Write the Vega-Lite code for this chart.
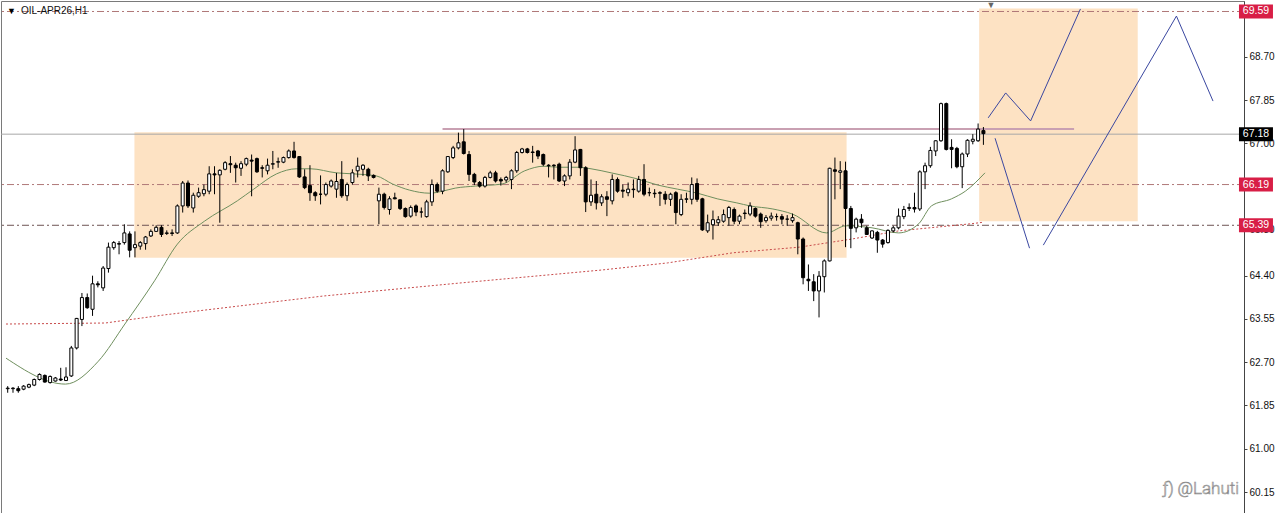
{
  "$schema": "https://vega.github.io/schema/vega-lite/v6.json",
  "width": 1243,
  "height": 513,
  "padding": 0,
  "background": "white",
  "config": {
    "view": {"stroke": "#7a7a7a", "strokeWidth": 1},
    "axisY": {"grid": false, "domainColor": "#444", "tickColor": "#444", "tickSize": 3, "labelPadding": 2, "labelFont": "Liberation Sans", "labelFontSize": 10, "labelColor": "#111"}
  },
  "datasets": {
    "candles": [
      {"n":1,"o":62.18,"h":62.23,"l":62.10,"c":62.19},
      {"n":2,"o":62.18,"h":62.21,"l":62.10,"c":62.19},
      {"n":3,"o":62.18,"h":62.23,"l":62.10,"c":62.14},
      {"n":4,"o":62.17,"h":62.25,"l":62.15,"c":62.23},
      {"n":5,"o":62.21,"h":62.28,"l":62.19,"c":62.26},
      {"n":6,"o":62.25,"h":62.38,"l":62.23,"c":62.36},
      {"n":7,"o":62.36,"h":62.48,"l":62.34,"c":62.46},
      {"n":8,"o":62.44,"h":62.46,"l":62.30,"c":62.31},
      {"n":9,"o":62.30,"h":62.44,"l":62.28,"c":62.42},
      {"n":10,"o":62.33,"h":62.41,"l":62.32,"c":62.39},
      {"n":11,"o":62.37,"h":62.59,"l":62.33,"c":62.35},
      {"n":12,"o":62.34,"h":62.60,"l":62.33,"c":62.41},
      {"n":13,"o":62.43,"h":63.02,"l":62.41,"c":62.98},
      {"n":14,"o":62.98,"h":63.57,"l":62.95,"c":63.56},
      {"n":15,"o":63.54,"h":64.06,"l":63.41,"c":63.97},
      {"n":16,"o":63.97,"h":64.05,"l":63.75,"c":63.77},
      {"n":17,"o":63.74,"h":64.40,"l":63.61,"c":64.24},
      {"n":18,"o":64.24,"h":64.29,"l":64.17,"c":64.22},
      {"n":19,"o":64.16,"h":64.59,"l":64.10,"c":64.55},
      {"n":20,"o":64.54,"h":65.05,"l":64.46,"c":64.96},
      {"n":21,"o":64.95,"h":65.08,"l":64.91,"c":65.05},
      {"n":22,"o":65.03,"h":65.08,"l":64.82,"c":65.02},
      {"n":23,"o":65.05,"h":65.41,"l":65.01,"c":65.24},
      {"n":24,"o":65.22,"h":65.27,"l":64.76,"c":64.90},
      {"n":25,"o":64.95,"h":65.27,"l":64.76,"c":65.01},
      {"n":26,"o":64.98,"h":65.08,"l":64.91,"c":65.05},
      {"n":27,"o":65.03,"h":65.18,"l":64.91,"c":65.16},
      {"n":28,"o":65.18,"h":65.31,"l":65.16,"c":65.27},
      {"n":29,"o":65.27,"h":65.39,"l":65.26,"c":65.35},
      {"n":30,"o":65.35,"h":65.39,"l":65.16,"c":65.21},
      {"n":31,"o":65.23,"h":65.29,"l":65.20,"c":65.24},
      {"n":32,"o":65.24,"h":65.31,"l":65.18,"c":65.23},
      {"n":33,"o":65.24,"h":65.80,"l":65.22,"c":65.77},
      {"n":34,"o":65.77,"h":66.26,"l":65.64,"c":66.22},
      {"n":35,"o":66.22,"h":66.27,"l":65.73,"c":65.77},
      {"n":36,"o":65.73,"h":66.03,"l":65.64,"c":65.98},
      {"n":37,"o":65.96,"h":66.13,"l":65.93,"c":66.03},
      {"n":38,"o":66.01,"h":66.19,"l":65.96,"c":66.09},
      {"n":39,"o":66.06,"h":66.55,"l":66.00,"c":66.40},
      {"n":40,"o":66.40,"h":66.55,"l":66.00,"c":66.38},
      {"n":41,"o":66.38,"h":66.49,"l":65.44,"c":66.47},
      {"n":42,"o":66.49,"h":66.65,"l":66.47,"c":66.62},
      {"n":43,"o":66.60,"h":66.75,"l":66.42,"c":66.58},
      {"n":44,"o":66.57,"h":66.62,"l":66.23,"c":66.52},
      {"n":45,"o":66.51,"h":66.65,"l":66.36,"c":66.60},
      {"n":46,"o":66.59,"h":66.72,"l":66.55,"c":66.70},
      {"n":47,"o":66.67,"h":66.78,"l":65.96,"c":66.65},
      {"n":48,"o":66.70,"h":66.72,"l":66.42,"c":66.44},
      {"n":49,"o":66.52,"h":66.57,"l":66.33,"c":66.51},
      {"n":50,"o":66.46,"h":66.70,"l":66.39,"c":66.57},
      {"n":51,"o":66.59,"h":66.85,"l":66.49,"c":66.60},
      {"n":52,"o":66.63,"h":66.72,"l":66.52,"c":66.64},
      {"n":53,"o":66.63,"h":66.74,"l":66.61,"c":66.72},
      {"n":54,"o":66.72,"h":66.88,"l":66.70,"c":66.85},
      {"n":55,"o":66.85,"h":67.03,"l":66.70,"c":66.72},
      {"n":56,"o":66.74,"h":66.75,"l":66.32,"c":66.34},
      {"n":57,"o":66.34,"h":66.49,"l":66.10,"c":66.13},
      {"n":58,"o":66.17,"h":66.57,"l":65.87,"c":66.03},
      {"n":59,"o":66.03,"h":66.06,"l":65.87,"c":65.97},
      {"n":60,"o":66.00,"h":66.37,"l":65.80,"c":66.00},
      {"n":61,"o":66.00,"h":66.23,"l":65.96,"c":66.19},
      {"n":62,"o":66.16,"h":66.29,"l":66.13,"c":66.26},
      {"n":63,"o":66.10,"h":66.42,"l":65.93,"c":66.25},
      {"n":64,"o":66.29,"h":66.65,"l":65.93,"c":65.97},
      {"n":65,"o":65.97,"h":66.23,"l":65.87,"c":66.19},
      {"n":66,"o":66.23,"h":66.49,"l":66.19,"c":66.42},
      {"n":67,"o":66.46,"h":66.72,"l":66.33,"c":66.55},
      {"n":68,"o":66.49,"h":66.59,"l":66.36,"c":66.57},
      {"n":69,"o":66.49,"h":66.52,"l":66.26,"c":66.36},
      {"n":70,"o":66.37,"h":66.39,"l":66.31,"c":66.33},
      {"n":71,"o":65.87,"h":66.13,"l":65.41,"c":66.00},
      {"n":72,"o":66.00,"h":66.03,"l":65.70,"c":65.74},
      {"n":73,"o":65.70,"h":65.96,"l":65.60,"c":65.91},
      {"n":74,"o":65.93,"h":66.03,"l":65.90,"c":65.91},
      {"n":75,"o":65.89,"h":65.90,"l":65.69,"c":65.72},
      {"n":76,"o":65.72,"h":65.74,"l":65.54,"c":65.56},
      {"n":77,"o":65.57,"h":65.78,"l":65.54,"c":65.74},
      {"n":78,"o":65.77,"h":65.80,"l":65.57,"c":65.65},
      {"n":79,"o":65.65,"h":65.74,"l":65.54,"c":65.65},
      {"n":80,"o":65.56,"h":65.89,"l":65.54,"c":65.85},
      {"n":81,"o":65.85,"h":66.29,"l":65.77,"c":66.19},
      {"n":82,"o":66.19,"h":66.23,"l":66.03,"c":66.06},
      {"n":83,"o":66.06,"h":66.49,"l":66.00,"c":66.46},
      {"n":84,"o":66.44,"h":66.75,"l":66.42,"c":66.74},
      {"n":85,"o":66.72,"h":66.95,"l":66.69,"c":66.91},
      {"n":86,"o":66.91,"h":67.21,"l":66.88,"c":67.01},
      {"n":87,"o":67.03,"h":67.28,"l":66.78,"c":66.80},
      {"n":88,"o":66.78,"h":66.85,"l":66.26,"c":66.39},
      {"n":89,"o":66.39,"h":66.42,"l":66.18,"c":66.24},
      {"n":90,"o":66.23,"h":66.26,"l":66.13,"c":66.16},
      {"n":91,"o":66.16,"h":66.36,"l":66.13,"c":66.33},
      {"n":92,"o":66.33,"h":66.46,"l":66.31,"c":66.42},
      {"n":93,"o":66.42,"h":66.46,"l":66.23,"c":66.26},
      {"n":94,"o":66.29,"h":66.33,"l":66.17,"c":66.26},
      {"n":95,"o":66.28,"h":66.36,"l":66.23,"c":66.33},
      {"n":96,"o":66.29,"h":66.49,"l":66.10,"c":66.46},
      {"n":97,"o":66.46,"h":66.85,"l":66.42,"c":66.82},
      {"n":98,"o":66.82,"h":66.91,"l":66.80,"c":66.89},
      {"n":99,"o":66.89,"h":66.91,"l":66.80,"c":66.82},
      {"n":100,"o":66.83,"h":66.95,"l":66.62,"c":66.82},
      {"n":101,"o":66.85,"h":66.87,"l":66.69,"c":66.75},
      {"n":102,"o":66.78,"h":66.80,"l":66.55,"c":66.59},
      {"n":103,"o":66.57,"h":66.59,"l":66.33,"c":66.56},
      {"n":104,"o":66.57,"h":66.59,"l":66.29,"c":66.56},
      {"n":105,"o":66.59,"h":66.62,"l":66.24,"c":66.26},
      {"n":106,"o":66.26,"h":66.39,"l":66.16,"c":66.36},
      {"n":107,"o":66.36,"h":66.69,"l":66.29,"c":66.63},
      {"n":108,"o":66.63,"h":67.14,"l":66.61,"c":66.87},
      {"n":109,"o":66.88,"h":66.89,"l":66.36,"c":66.52},
      {"n":110,"o":66.52,"h":66.55,"l":65.65,"c":65.85},
      {"n":111,"o":65.85,"h":66.29,"l":65.77,"c":65.98},
      {"n":112,"o":66.00,"h":66.26,"l":65.70,"c":65.83},
      {"n":113,"o":65.83,"h":66.00,"l":65.77,"c":65.95},
      {"n":114,"o":65.95,"h":66.06,"l":65.57,"c":65.90},
      {"n":115,"o":65.87,"h":66.39,"l":65.80,"c":66.29},
      {"n":116,"o":66.29,"h":66.33,"l":66.03,"c":66.06},
      {"n":117,"o":66.08,"h":66.19,"l":65.93,"c":66.06},
      {"n":118,"o":66.03,"h":66.23,"l":65.96,"c":66.10},
      {"n":119,"o":66.10,"h":66.29,"l":65.93,"c":66.09},
      {"n":120,"o":66.06,"h":66.36,"l":66.03,"c":66.29},
      {"n":121,"o":66.29,"h":66.59,"l":65.96,"c":66.00},
      {"n":122,"o":66.03,"h":66.13,"l":65.96,"c":66.03},
      {"n":123,"o":66.02,"h":66.10,"l":65.93,"c":66.01},
      {"n":124,"o":66.03,"h":66.06,"l":65.77,"c":66.02},
      {"n":125,"o":66.00,"h":66.06,"l":65.80,"c":65.90},
      {"n":126,"o":65.90,"h":66.03,"l":65.77,"c":66.00},
      {"n":127,"o":66.03,"h":66.06,"l":65.41,"c":65.64},
      {"n":128,"o":65.60,"h":66.00,"l":65.57,"c":65.90},
      {"n":129,"o":65.90,"h":66.03,"l":65.83,"c":65.91},
      {"n":130,"o":65.90,"h":66.33,"l":65.80,"c":66.19},
      {"n":131,"o":66.21,"h":66.31,"l":65.85,"c":65.90},
      {"n":132,"o":65.91,"h":65.93,"l":65.28,"c":65.30},
      {"n":133,"o":65.28,"h":65.60,"l":65.24,"c":65.44},
      {"n":134,"o":65.40,"h":65.68,"l":65.11,"c":65.50},
      {"n":135,"o":65.44,"h":65.57,"l":65.38,"c":65.50},
      {"n":136,"o":65.47,"h":65.70,"l":65.44,"c":65.60},
      {"n":137,"o":65.54,"h":65.77,"l":65.38,"c":65.74},
      {"n":138,"o":65.70,"h":65.74,"l":65.41,"c":65.47},
      {"n":139,"o":65.47,"h":65.60,"l":65.41,"c":65.57},
      {"n":140,"o":65.63,"h":65.70,"l":65.51,"c":65.62},
      {"n":141,"o":65.61,"h":65.84,"l":65.57,"c":65.77},
      {"n":142,"o":65.72,"h":65.74,"l":65.54,"c":65.57},
      {"n":143,"o":65.61,"h":65.64,"l":65.34,"c":65.46},
      {"n":144,"o":65.48,"h":65.59,"l":65.44,"c":65.54},
      {"n":145,"o":65.53,"h":65.64,"l":65.48,"c":65.57},
      {"n":146,"o":65.56,"h":65.62,"l":65.48,"c":65.56},
      {"n":147,"o":65.56,"h":65.61,"l":65.41,"c":65.51},
      {"n":148,"o":65.51,"h":65.59,"l":65.38,"c":65.51},
      {"n":149,"o":65.48,"h":65.62,"l":65.44,"c":65.54},
      {"n":150,"o":65.44,"h":65.46,"l":64.82,"c":65.12},
      {"n":151,"o":65.12,"h":65.15,"l":64.23,"c":64.36},
      {"n":152,"o":64.33,"h":64.62,"l":64.10,"c":64.30},
      {"n":153,"o":64.28,"h":64.43,"l":63.90,"c":64.10},
      {"n":154,"o":64.10,"h":64.49,"l":63.58,"c":64.39},
      {"n":155,"o":64.38,"h":64.72,"l":64.07,"c":64.69},
      {"n":156,"o":64.69,"h":66.52,"l":64.68,"c":66.51},
      {"n":157,"o":66.48,"h":66.72,"l":65.90,"c":66.45},
      {"n":158,"o":66.43,"h":66.65,"l":66.10,"c":66.46},
      {"n":159,"o":66.46,"h":66.64,"l":64.96,"c":65.72},
      {"n":160,"o":65.72,"h":65.77,"l":64.94,"c":65.33},
      {"n":161,"o":65.34,"h":65.54,"l":65.25,"c":65.51},
      {"n":162,"o":65.51,"h":65.61,"l":65.34,"c":65.44},
      {"n":163,"o":65.34,"h":65.38,"l":65.20,"c":65.21},
      {"n":164,"o":65.14,"h":65.29,"l":65.12,"c":65.28},
      {"n":165,"o":65.25,"h":65.28,"l":64.85,"c":65.10},
      {"n":166,"o":65.10,"h":65.12,"l":64.95,"c":65.02},
      {"n":167,"o":65.05,"h":65.31,"l":65.03,"c":65.29},
      {"n":168,"o":65.28,"h":65.38,"l":65.25,"c":65.34},
      {"n":169,"o":65.34,"h":65.72,"l":65.31,"c":65.57},
      {"n":170,"o":65.56,"h":65.77,"l":65.51,"c":65.70},
      {"n":171,"o":65.72,"h":65.82,"l":65.67,"c":65.74},
      {"n":172,"o":65.74,"h":66.03,"l":65.64,"c":65.71},
      {"n":173,"o":65.71,"h":66.47,"l":65.67,"c":66.44},
      {"n":174,"o":66.44,"h":66.62,"l":66.10,"c":66.56},
      {"n":175,"o":66.56,"h":66.93,"l":66.52,"c":66.86},
      {"n":176,"o":66.85,"h":67.06,"l":66.75,"c":67.05},
      {"n":177,"o":67.05,"h":67.80,"l":67.03,"c":67.78},
      {"n":178,"o":67.78,"h":67.80,"l":66.86,"c":66.88},
      {"n":179,"o":66.92,"h":67.08,"l":66.51,"c":66.88},
      {"n":180,"o":66.90,"h":66.93,"l":66.51,"c":66.54},
      {"n":181,"o":66.54,"h":66.82,"l":66.12,"c":66.79},
      {"n":182,"o":66.79,"h":67.08,"l":66.73,"c":67.06},
      {"n":183,"o":67.04,"h":67.18,"l":66.98,"c":67.08},
      {"n":184,"o":67.05,"h":67.39,"l":67.03,"c":67.28},
      {"n":185,"o":67.25,"h":67.32,"l":66.97,"c":67.19}
    ],
    "maFast": [
      {"n":0.68,"p":62.78},{"n":11.9,"p":62.27},{"n":18.1,"p":62.72},{"n":23.1,"p":63.45},{"n":28.7,"p":64.30},{"n":33.0,"p":65.02},{"n":38.1,"p":65.47},{"n":44.3,"p":65.87},{"n":47.4,"p":66.10},{"n":51.7,"p":66.40},{"n":55.5,"p":66.50},{"n":58.1,"p":66.50},{"n":63.0,"p":66.42},{"n":66.2,"p":66.40},{"n":70.5,"p":66.36},{"n":73.6,"p":66.20},{"n":76.8,"p":66.08},{"n":80.6,"p":66.02},{"n":83.0,"p":66.06},{"n":85.4,"p":66.12},{"n":89.2,"p":66.16},{"n":94.2,"p":66.20},{"n":98.5,"p":66.46},{"n":102.1,"p":66.55},{"n":104.9,"p":66.53},{"n":108.6,"p":66.53},{"n":111.0,"p":66.50},{"n":114.8,"p":66.42},{"n":119.8,"p":66.30},{"n":123.6,"p":66.18},{"n":127.3,"p":66.10},{"n":131.1,"p":66.02},{"n":134.8,"p":65.91},{"n":138.5,"p":65.83},{"n":141.0,"p":65.77},{"n":145.3,"p":65.71},{"n":149.0,"p":65.61},{"n":155.4,"p":65.24},{"n":159.1,"p":65.38},{"n":164.0,"p":65.34},{"n":169.0,"p":65.24},{"n":172.8,"p":65.42},{"n":175.2,"p":65.77},{"n":179.0,"p":65.91},{"n":181.6,"p":66.06},{"n":185.3,"p":66.42}
    ],
    "maSlow": [
      {"n":0.68,"p":63.45},{"n":19.4,"p":63.47},{"n":30.6,"p":63.63},{"n":44.3,"p":63.80},{"n":60.5,"p":64.00},{"n":86.7,"p":64.26},{"n":112.9,"p":64.51},{"n":125.4,"p":64.65},{"n":137.8,"p":64.85},{"n":150.3,"p":64.96},{"n":160.2,"p":65.12},{"n":169.0,"p":65.28},{"n":182.7,"p":65.42},{"n":185.0,"p":65.45}
    ],
    "proj": [
      {"s":"a","n":185.9,"p":67.50},{"s":"a","n":189.2,"p":67.99},{"s":"a","n":193.9,"p":67.44},{"s":"a","n":203.3,"p":69.64},
      {"s":"b","n":187.2,"p":67.10},{"s":"b","n":193.7,"p":64.94},
      {"s":"c","n":196.3,"p":65.00},{"s":"c","n":221.4,"p":69.50},{"s":"c","n":228.3,"p":67.83}
    ],
    "zones": [
      {"n1":24.9,"n2":159.2,"p1":64.75,"p2":67.22},
      {"n1":184.2,"n2":214.1,"p1":65.47,"p2":69.65}
    ],
    "levels": [{"p":69.59},{"p":67.18},{"p":66.19},{"p":65.39}]
  },
  "layer": [
    {
      "data": {"name": "zones"},
      "mark": {"type": "rect", "color": "#fde2c3"},
      "encoding": {
        "x": {"field": "n1", "type": "quantitative", "axis": null, "scale": {"domain": [0.68, 233.2], "nice": false, "zero": false}},
        "x2": {"field": "n2"},
        "y": {"field": "p1", "type": "quantitative", "scale": {"domain": [59.718, 69.796], "nice": false, "zero": false},
              "axis": {"orient": "right", "title": null, "values": [60.15, 61.0, 61.85, 62.7, 63.55, 64.4, 65.3, 67.0, 67.85, 68.7], "format": ".2f"}},
        "y2": {"field": "p2"}
      }
    },
    {
      "data": {"values": [{"p": 69.59}, {"p": 66.19}]},
      "mark": {"type": "rule", "color": "#b07878", "strokeWidth": 1, "strokeDash": [7, 3, 2, 3]},
      "encoding": {"y": {"field": "p", "type": "quantitative", "scale": {"domain": [59.718, 69.796], "nice": false, "zero": false},
        "axis": {"orient": "right", "title": null, "values": [60.15, 61.0, 61.85, 62.7, 63.55, 64.4, 65.3, 67.0, 67.85, 68.7], "format": ".2f"}}}
    },
    {
      "data": {"values": [{"p": 65.39}]},
      "mark": {"type": "rule", "color": "#6e5454", "strokeWidth": 1, "strokeDash": [7, 3, 2, 3]},
      "encoding": {"y": {"field": "p", "type": "quantitative", "scale": {"domain": [59.718, 69.796], "nice": false, "zero": false},
        "axis": {"orient": "right", "title": null, "values": [60.15, 61.0, 61.85, 62.7, 63.55, 64.4, 65.3, 67.0, 67.85, 68.7], "format": ".2f"}}}
    },
    {
      "data": {"values": [{"p": 67.18}]},
      "mark": {"type": "rule", "color": "#a8a8a8", "strokeWidth": 1},
      "encoding": {"y": {"field": "p", "type": "quantitative", "scale": {"domain": [59.718, 69.796], "nice": false, "zero": false},
        "axis": {"orient": "right", "title": null, "values": [60.15, 61.0, 61.85, 62.7, 63.55, 64.4, 65.3, 67.0, 67.85, 68.7], "format": ".2f"}}}
    },
    {
      "data": {"values": [{"n1": 83.0, "n2": 202.1, "p": 67.28}]},
      "mark": {"type": "rule", "color": "#c9a0b2", "strokeWidth": 2},
      "encoding": {
        "x": {"field": "n1", "type": "quantitative", "axis": null, "scale": {"domain": [0.68, 233.2], "nice": false, "zero": false}},
        "x2": {"field": "n2"},
        "y": {"field": "p", "type": "quantitative", "scale": {"domain": [59.718, 69.796], "nice": false, "zero": false},
          "axis": {"orient": "right", "title": null, "values": [60.15, 61.0, 61.85, 62.7, 63.55, 64.4, 65.3, 67.0, 67.85, 68.7], "format": ".2f"}}
      }
    },
    {
      "data": {"name": "maSlow"},
      "mark": {"type": "line", "color": "#c84a4a", "strokeWidth": 1, "strokeDash": [2, 2]},
      "encoding": {
        "x": {"field": "n", "type": "quantitative", "axis": null, "scale": {"domain": [0.68, 233.2], "nice": false, "zero": false}},
        "y": {"field": "p", "type": "quantitative", "scale": {"domain": [59.718, 69.796], "nice": false, "zero": false},
          "axis": {"orient": "right", "title": null, "values": [60.15, 61.0, 61.85, 62.7, 63.55, 64.4, 65.3, 67.0, 67.85, 68.7], "format": ".2f"}}
      }
    },
    {
      "data": {"name": "maFast"},
      "mark": {"type": "line", "color": "#6f8f5e", "strokeWidth": 1, "interpolate": "monotone"},
      "encoding": {
        "x": {"field": "n", "type": "quantitative", "axis": null, "scale": {"domain": [0.68, 233.2], "nice": false, "zero": false}},
        "y": {"field": "p", "type": "quantitative", "scale": {"domain": [59.718, 69.796], "nice": false, "zero": false},
          "axis": {"orient": "right", "title": null, "values": [60.15, 61.0, 61.85, 62.7, 63.55, 64.4, 65.3, 67.0, 67.85, 68.7], "format": ".2f"}}
      }
    },
    {
      "data": {"name": "candles"},
      "mark": {"type": "rule", "color": "#000", "strokeWidth": 1},
      "encoding": {
        "x": {"field": "n", "type": "quantitative", "axis": null, "scale": {"domain": [0.68, 233.2], "nice": false, "zero": false}},
        "y": {"field": "l", "type": "quantitative", "scale": {"domain": [59.718, 69.796], "nice": false, "zero": false},
          "axis": {"orient": "right", "title": null, "values": [60.15, 61.0, 61.85, 62.7, 63.55, 64.4, 65.3, 67.0, 67.85, 68.7], "format": ".2f"}},
        "y2": {"field": "h"}
      }
    },
    {
      "data": {"name": "candles"},
      "mark": {"type": "bar", "width": 3, "stroke": "#000", "strokeWidth": 1},
      "encoding": {
        "x": {"field": "n", "type": "quantitative", "axis": null, "scale": {"domain": [0.68, 233.2], "nice": false, "zero": false}},
        "y": {"field": "o", "type": "quantitative", "scale": {"domain": [59.718, 69.796], "nice": false, "zero": false},
          "axis": {"orient": "right", "title": null, "values": [60.15, 61.0, 61.85, 62.7, 63.55, 64.4, 65.3, 67.0, 67.85, 68.7], "format": ".2f"}},
        "y2": {"field": "c"},
        "fill": {"condition": {"test": "datum.c >= datum.o", "value": "#ffffff"}, "value": "#000000"}
      }
    },
    {
      "data": {"name": "proj"},
      "mark": {"type": "line", "color": "#3a47a0", "strokeWidth": 1},
      "encoding": {
        "x": {"field": "n", "type": "quantitative", "axis": null, "scale": {"domain": [0.68, 233.2], "nice": false, "zero": false}},
        "y": {"field": "p", "type": "quantitative", "scale": {"domain": [59.718, 69.796], "nice": false, "zero": false},
          "axis": {"orient": "right", "title": null, "values": [60.15, 61.0, 61.85, 62.7, 63.55, 64.4, 65.3, 67.0, 67.85, 68.7], "format": ".2f"}},
        "detail": {"field": "s"}
      }
    },
    {
      "data": {"values": [{"n": 1.7, "p": 69.6, "t": "▼"}]},
      "mark": {"type": "text", "fontSize": 9, "color": "#000", "baseline": "middle", "align": "center"},
      "encoding": {
        "x": {"field": "n", "type": "quantitative", "axis": null, "scale": {"domain": [0.68, 233.2], "nice": false, "zero": false}},
        "y": {"field": "p", "type": "quantitative", "scale": {"domain": [59.718, 69.796], "nice": false, "zero": false},
          "axis": {"orient": "right", "title": null, "values": [60.15, 61.0, 61.85, 62.7, 63.55, 64.4, 65.3, 67.0, 67.85, 68.7], "format": ".2f"}},
        "text": {"field": "t"}
      }
    },
    {
      "data": {"values": [{"n": 3.5, "p": 69.59, "t": "OIL-APR26,H1"}]},
      "mark": {"type": "text", "fontSize": 10, "font": "Liberation Sans", "color": "#111", "baseline": "middle", "align": "left"},
      "encoding": {
        "x": {"field": "n", "type": "quantitative", "axis": null, "scale": {"domain": [0.68, 233.2], "nice": false, "zero": false}},
        "y": {"field": "p", "type": "quantitative", "scale": {"domain": [59.718, 69.796], "nice": false, "zero": false},
          "axis": {"orient": "right", "title": null, "values": [60.15, 61.0, 61.85, 62.7, 63.55, 64.4, 65.3, 67.0, 67.85, 68.7], "format": ".2f"}},
        "text": {"field": "t"}
      }
    },
    {
      "data": {"values": [{"n": 186.4, "p": 69.72, "t": "▼"}]},
      "mark": {"type": "text", "fontSize": 9, "color": "#666", "baseline": "middle", "align": "center"},
      "encoding": {
        "x": {"field": "n", "type": "quantitative", "axis": null, "scale": {"domain": [0.68, 233.2], "nice": false, "zero": false}},
        "y": {"field": "p", "type": "quantitative", "scale": {"domain": [59.718, 69.796], "nice": false, "zero": false},
          "axis": {"orient": "right", "title": null, "values": [60.15, 61.0, 61.85, 62.7, 63.55, 64.4, 65.3, 67.0, 67.85, 68.7], "format": ".2f"}},
        "text": {"field": "t"}
      }
    },
    {
      "data": {"values": [{"n": 218.8, "p": 60.21, "t": "ƒ)"}, {"n": 221.6, "p": 60.21, "t": "@Lahuti"}]},
      "mark": {"type": "text", "fontSize": 17, "font": "Roboto", "fontWeight": 300, "fill": "#f2f2f2", "stroke": "#8a8a8a", "strokeWidth": 0.6, "baseline": "middle", "align": "left"},
      "encoding": {
        "x": {"field": "n", "type": "quantitative", "axis": null, "scale": {"domain": [0.68, 233.2], "nice": false, "zero": false}},
        "y": {"field": "p", "type": "quantitative", "scale": {"domain": [59.718, 69.796], "nice": false, "zero": false},
          "axis": {"orient": "right", "title": null, "values": [60.15, 61.0, 61.85, 62.7, 63.55, 64.4, 65.3, 67.0, 67.85, 68.7], "format": ".2f"}},
        "text": {"field": "t"}
      }
    },
    {
      "data": {"name": "levels"},
      "mark": {"type": "point", "filled": true, "opacity": 1, "shape": "M-1.7,-0.7L1.7,-0.7L1.7,0.7L-1.7,0.7Z", "size": 400},
      "encoding": {
        "x": {"datum": 236.4, "type": "quantitative", "axis": null, "scale": {"domain": [0.68, 233.2], "nice": false, "zero": false}},
        "y": {"field": "p", "type": "quantitative", "scale": {"domain": [59.718, 69.796], "nice": false, "zero": false},
          "axis": {"orient": "right", "title": null, "values": [60.15, 61.0, 61.85, 62.7, 63.55, 64.4, 65.3, 67.0, 67.85, 68.7], "format": ".2f"}},
        "color": {"condition": {"test": "datum.p == 67.18", "value": "#000000"}, "value": "#d81e46"}
      }
    },
    {
      "data": {"name": "levels"},
      "mark": {"type": "text", "fontSize": 10.5, "font": "Liberation Sans", "color": "#ffffff", "baseline": "middle", "align": "center"},
      "encoding": {
        "x": {"datum": 236.4, "type": "quantitative", "axis": null, "scale": {"domain": [0.68, 233.2], "nice": false, "zero": false}},
        "y": {"field": "p", "type": "quantitative", "scale": {"domain": [59.718, 69.796], "nice": false, "zero": false},
          "axis": {"orient": "right", "title": null, "values": [60.15, 61.0, 61.85, 62.7, 63.55, 64.4, 65.3, 67.0, 67.85, 68.7], "format": ".2f"}},
        "text": {"field": "p", "type": "quantitative", "format": ".2f"}
      }
    }
  ]
}
